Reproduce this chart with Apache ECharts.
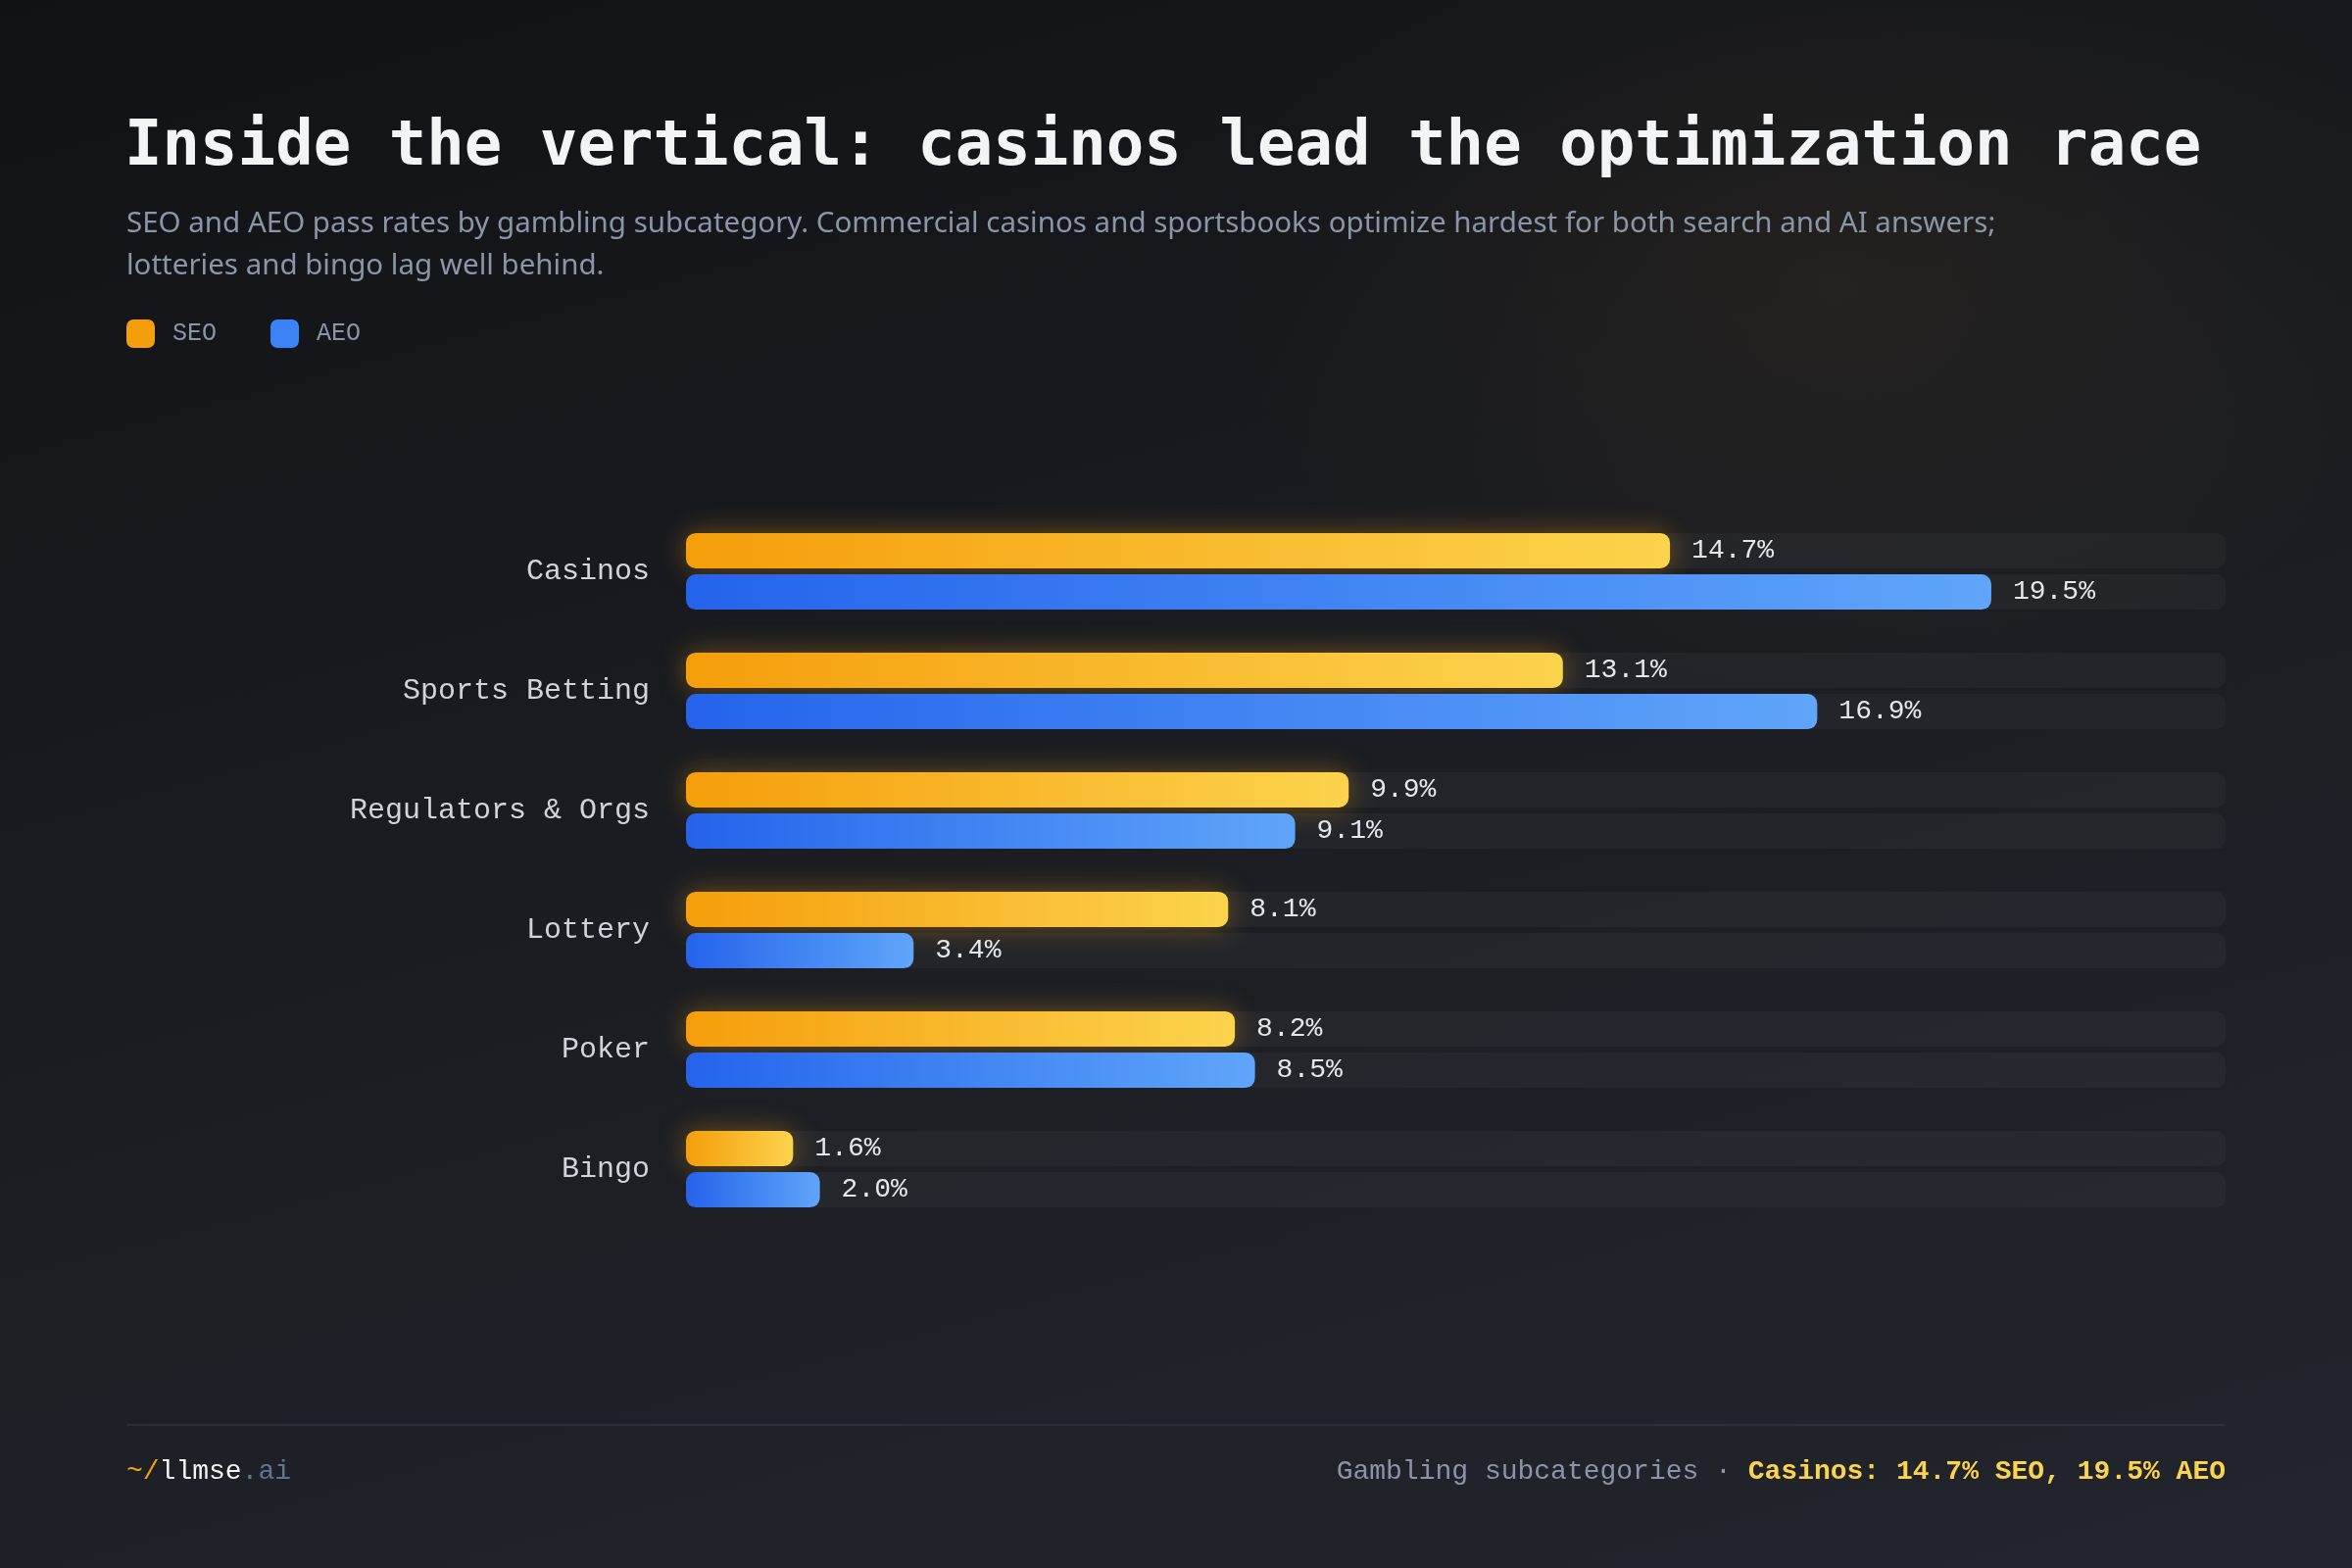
<!DOCTYPE html>
<html>
<head>
<meta charset="utf-8">
<title>Inside the vertical</title>
<script src="https://cdn.jsdelivr.net/npm/echarts@6/dist/echarts.min.js"></script>
<style>
  html, body { margin:0; padding:0; }
  body {
    width:2400px; height:1600px; overflow:hidden;
    background:
      radial-gradient(ellipse 900px 600px at 78% 18%, rgba(190,130,40,0.07), rgba(0,0,0,0) 70%),
      linear-gradient(165deg, #101216 0%, #1a1c21 45%, #22252d 100%);
  }
  #chart { width:2400px; height:1600px; }
</style>
</head>
<body>
<div id="chart"></div>
<script>
var categories = ['Casinos', 'Sports Betting', 'Regulators & Orgs', 'Lottery', 'Poker', 'Bingo'];
var seoValues = [14.7, 13.1, 9.9, 8.1, 8.2, 1.6];
var aeoValues = [19.5, 16.9, 9.1, 3.4, 8.5, 2.0];
var seriesNames = ['SEO', 'AEO'];

var mono = '"Liberation Mono", "DejaVu Sans Mono", monospace';
var titleMono = '"DejaVu Sans Mono", monospace';
var chart = echarts.init(document.getElementById('chart'));

function grad(c0, c1) {
  return new echarts.graphic.LinearGradient(0, 0, 1, 0, [
    {offset: 0, color: c0},
    {offset: 1, color: c1}
  ]);
}

function valueLabel(p) {
  return p.value.toFixed(1) + '%';
}

var footerRight = categories[0] + ': ' + seoValues[0].toFixed(1) + '% ' + seriesNames[0] +
  ', ' + aeoValues[0].toFixed(1) + '% ' + seriesNames[1];

option = {
  backgroundColor: 'transparent',
  animation: false,
  title: [
    {
      text: 'Inside the vertical: casinos lead the optimization race',
      left: 122,
      top: 114,
      textStyle: {fontFamily: titleMono, fontWeight: 'bold', fontSize: 64, color: '#f3f4f6'}
    },
    {
      text: 'SEO and AEO pass rates by gambling subcategory. Commercial casinos and sportsbooks optimize hardest for both search and AI answers;\nlotteries and bingo lag well behind.',
      left: 124,
      top: 202,
      textStyle: {fontFamily: '"Noto Sans", sans-serif', fontWeight: 'normal', fontSize: 29.5, lineHeight: 43, color: '#8b95a7'}
    }
  ],
  legend: {
    left: 129,
    top: 326,
    padding: 0,
    icon: 'roundRect',
    itemWidth: 29,
    itemHeight: 29,
    itemGap: 55,
    textStyle: {fontFamily: mono, fontSize: 25, color: '#8b95a7', padding: [0, 0, 0, 13]},
    data: [
      {name: seriesNames[0], itemStyle: {color: '#f59e0b'}},
      {name: seriesNames[1], itemStyle: {color: '#3b82f6'}}
    ]
  },
  grid: {left: 700, right: 129, top: 522, bottom: 346, containLabel: false},
  xAxis: {
    type: 'value', min: 0, max: 23,
    show: false
  },
  yAxis: {
    type: 'category',
    inverse: true,
    data: categories,
    axisLine: {show: false},
    axisTick: {show: false},
    splitLine: {show: false},
    axisLabel: {margin: 37, fontFamily: mono, fontSize: 30, color: '#d1d5db'}
  },
  series: [
    {
      name: seriesNames[0],
      type: 'bar',
      data: seoValues,
      barWidth: 36,
      barGap: '17%',
      showBackground: true,
      backgroundStyle: {color: 'rgba(255,255,255,0.035)', borderRadius: 10},
      itemStyle: {
        color: grad('#f59e0b', '#fcd34d'),
        borderRadius: 10,
        shadowColor: 'rgba(245,158,11,0.4)',
        shadowBlur: 28
      },
      label: {
        show: true, position: 'right', distance: 22,
        formatter: valueLabel,
        fontFamily: mono, fontSize: 28, color: '#e5e7eb'
      }
    },
    {
      name: seriesNames[1],
      type: 'bar',
      data: aeoValues,
      barWidth: 36,
      showBackground: true,
      backgroundStyle: {color: 'rgba(255,255,255,0.035)', borderRadius: 10},
      itemStyle: {
        color: grad('#2563eb', '#60a5fa'),
        borderRadius: 10
      },
      label: {
        show: true, position: 'right', distance: 22,
        formatter: valueLabel,
        fontFamily: mono, fontSize: 28, color: '#e5e7eb'
      }
    }
  ],
  graphic: [
    {
      type: 'rect',
      shape: {x: 129, y: 1453, width: 2142, height: 2},
      style: {fill: '#2a2f3a'}
    },
    {
      type: 'text',
      x: 129, y: 1502,
      style: {
        text: '{a|~/}{b|llmse}{c|.ai}',
        verticalAlign: 'middle',
        font: '28px ' + mono,
        rich: {
          a: {fontFamily: mono, fontSize: 28, fill: '#f59e0b'},
          b: {fontFamily: mono, fontSize: 28, fill: '#f3f4f6'},
          c: {fontFamily: mono, fontSize: 28, fill: '#64748b'}
        }
      }
    },
    {
      type: 'text',
      x: 2271, y: 1502,
      style: {
        text: '{a|Gambling subcategories · }{b|' + footerRight + '}',
        align: 'right',
        verticalAlign: 'middle',
        font: '28px ' + mono,
        rich: {
          a: {fontFamily: mono, fontSize: 28, fill: '#8b95a7'},
          b: {fontFamily: mono, fontSize: 28, fontWeight: 'bold', fill: '#fcd34d'}
        }
      }
    }
  ]
};
chart.setOption(option);
</script>
</body>
</html>
